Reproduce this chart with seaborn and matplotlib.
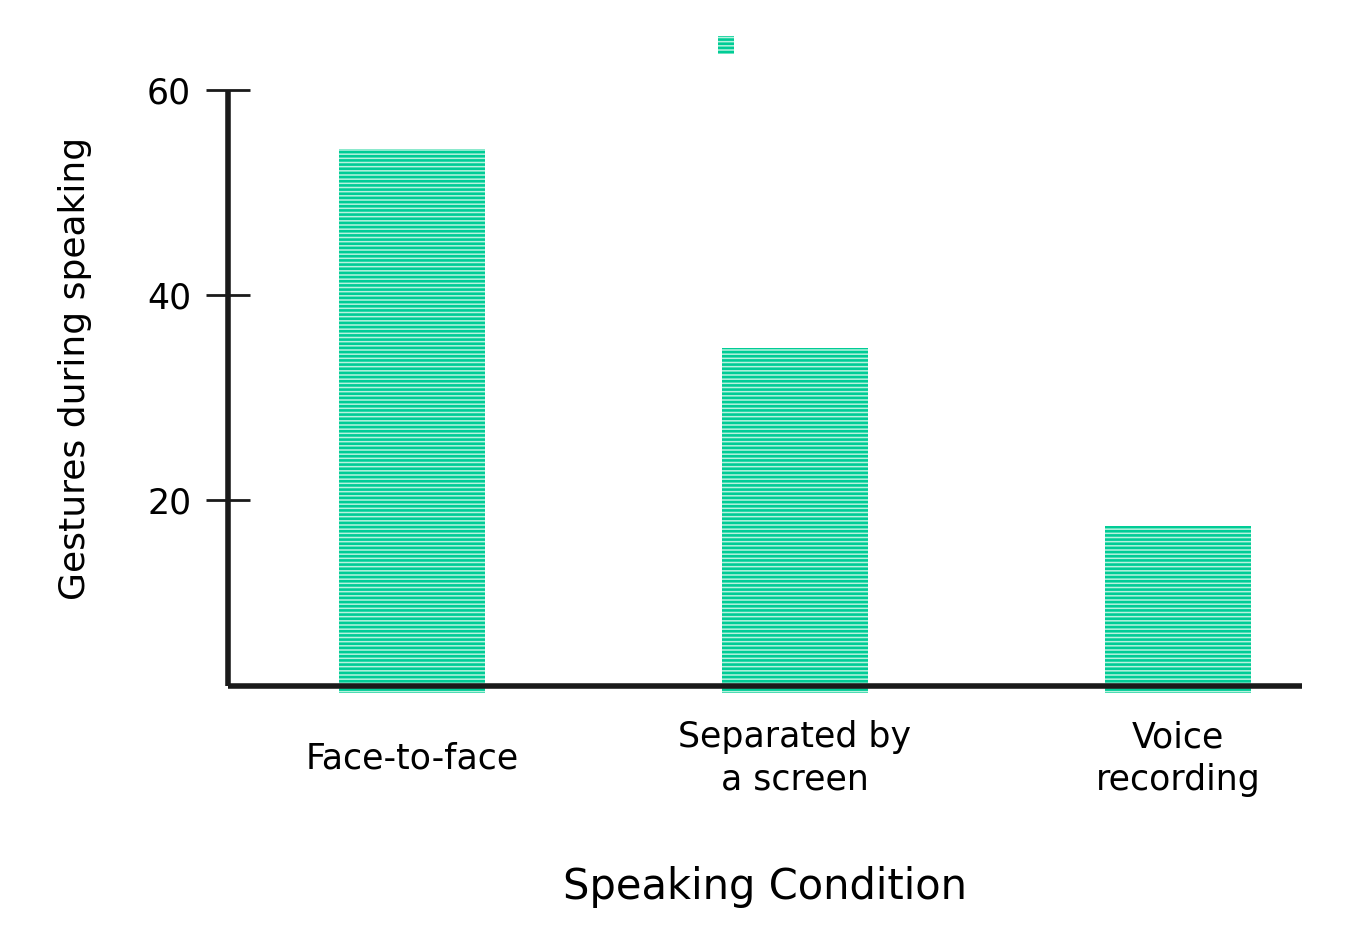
import matplotlib
matplotlib.use("Agg")
import matplotlib.pyplot as plt
import seaborn as sns
import pandas as pd
from matplotlib.patches import Patch

categories = ["Face-to-face", "Separated by\na screen", "Voice\nrecording"]
values = [54.2, 34.8, 17.5]
yticks = [20, 40, 60]

sns.set_theme(style="white")
plt.rcParams['font.family'] = ['DejaVu Sans']
plt.rcParams['hatch.linewidth'] = 1.9
plt.rcParams['text.color'] = 'black'
plt.rcParams['axes.labelcolor'] = 'black'
plt.rcParams['xtick.color'] = 'black'
plt.rcParams['ytick.color'] = 'black'

df = pd.DataFrame({"cond": categories, "val": values})

fig = plt.figure(figsize=(13.58, 9.44), dpi=100)
ax = fig.add_axes([228/1358, 1-693/944, (1302-228)/1358, (693-90)/944])

sns.barplot(data=df, x="cond", y="val", ax=ax, width=0.38,
            color="#b8f2de", saturation=1)
for p in ax.patches:
    p.set_hatch("----")
    p.set_edgecolor("#00cc96")
    p.set_linewidth(0)

ax.set_ylim(1.2, 60)
ax.set_xlim(-0.48, 2.324)
sns.despine(ax=ax)
ax.spines['bottom'].set_position(('data', 1.85))
ax.spines['left'].set_bounds(1.85, 60)
for s in ['left', 'bottom']:
    ax.spines[s].set_linewidth(4.0)
    ax.spines[s].set_color('#1a1a1a')
    ax.spines[s].set_capstyle('butt')

ax.set_yticks(yticks)
ax.tick_params(axis='y', direction='inout', length=31, width=2, color='#1a1a1a',
               labelsize=25, labelcolor='black', pad=11, left=True)
ax.tick_params(axis='x', length=0, labelsize=25, labelcolor='black', pad=52)
for lab in ax.get_xticklabels():
    lab.set_verticalalignment('center')
    lab.set_linespacing(1.32)

ax.set_xlabel("Speaking Condition", fontsize=30, labelpad=50, color='black')
ax.set_ylabel("Gestures during speaking", fontsize=26, color='black')
ax.yaxis.set_label_coords(-0.127, 0.539)

fig.legend(handles=[Patch(facecolor="#b8f2de", edgecolor="#00cc96", hatch="----", linewidth=0)],
           labels=[""], loc="center", bbox_to_anchor=(726/1358, 1-47/944),
           frameon=False, handlelength=0.6, handleheight=0.6, handletextpad=0,
           borderpad=0, fontsize=20)

fig.savefig("out.png", dpi=100, facecolor="white")
